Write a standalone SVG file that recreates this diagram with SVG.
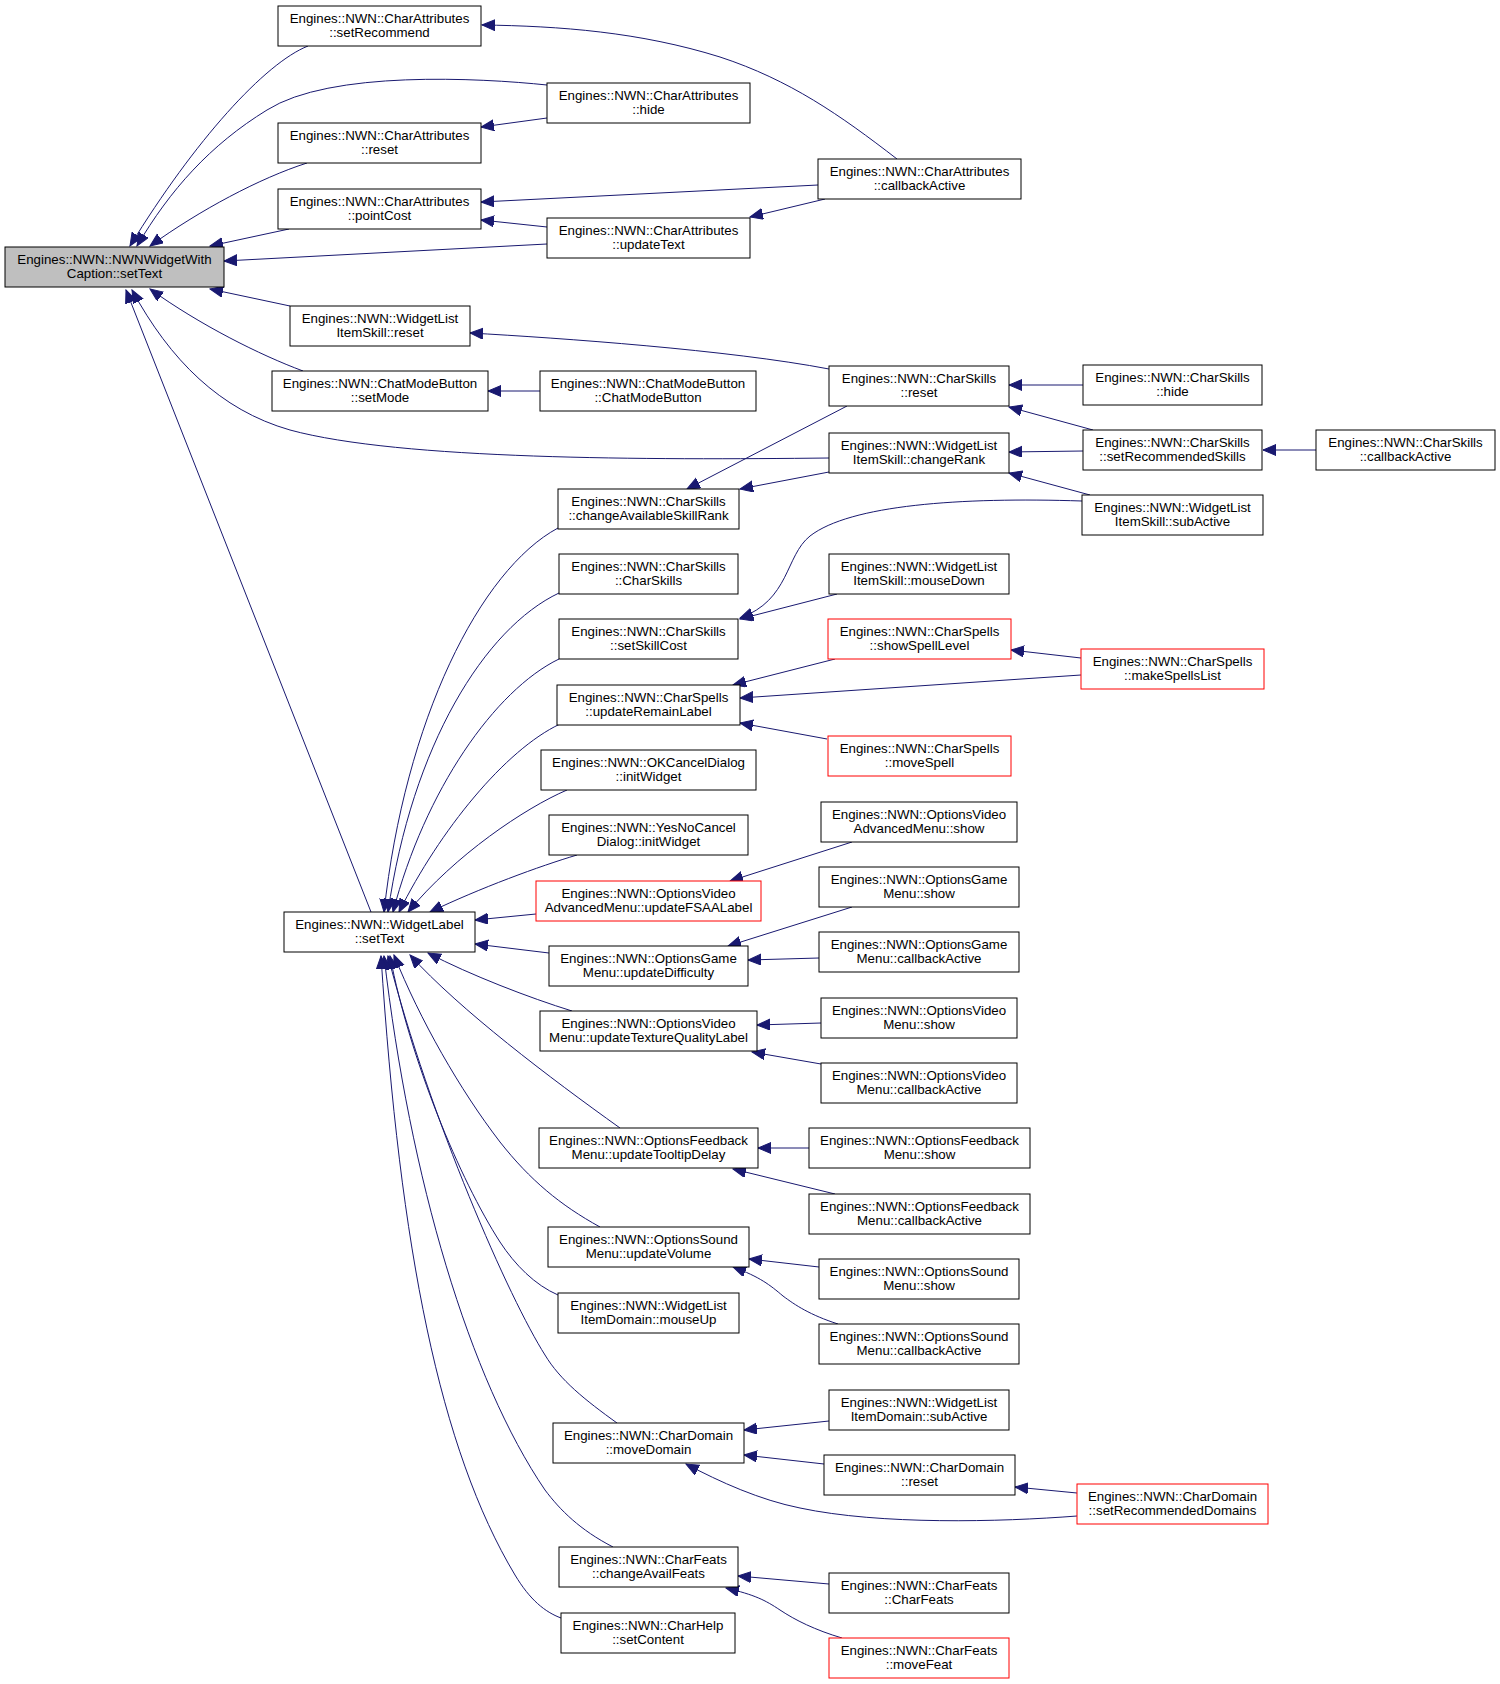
<svg xmlns="http://www.w3.org/2000/svg" width="1500" height="1684" viewBox="0 0 1500 1684">
<style>
.n rect{fill:#fff;stroke:#000;stroke-width:1}
.r rect{stroke:#ff0000}
.g rect{fill:#bfbfbf}
text{font-family:"Liberation Sans",Arial,sans-serif;font-size:13.3px;text-anchor:middle;fill:#000}
.e path{fill:none;stroke:#191970;stroke-width:1;marker-end:url(#a)}
</style>
<defs>
<marker id="a" markerWidth="14" markerHeight="12" refX="13" refY="5.5" orient="auto" markerUnits="userSpaceOnUse">
<path d="M0,0 L13,5.5 L0,11 z" fill="#191970" stroke="#191970"/>
</marker>
</defs>
<rect width="1500" height="1684" fill="#fff"/>
<g class="e" id="edges">
<path d="M308,46 C265,63 195,140 130,246"/>
<path d="M547,85 C480,78 330,70 267,110 C210,145 170,190 137,246"/>
<path d="M307,163 C260,178 200,210 150,246"/>
<path d="M289,229 L210,246"/>
<path d="M547,244 L224,261"/>
<path d="M290,306 L210,289"/>
<path d="M303,371 C260,355 200,325 150,289"/>
<path d="M829,458 C650,460 400,460 290,430 C220,410 170,360 132,290"/>
<path d="M371,912 L126,290"/>
<path d="M897,159 C840,115 790,80 720,57 C640,32 560,26 482,25"/>
<path d="M818,185 L481,202"/>
<path d="M825,199 L750,217"/>
<path d="M547,118 L481,127"/>
<path d="M547,227 L481,220"/>
<path d="M829,369 C730,350 560,338 470,333"/>
<path d="M540,391 L488,391"/>
<path d="M1083,385 L1009,385"/>
<path d="M1093,430 L1009,407"/>
<path d="M1083,451 L1009,452"/>
<path d="M1090,495 L1009,473"/>
<path d="M1316,450 L1263,450"/>
<path d="M829,472 L740,489"/>
<path d="M847,406 L687,489"/>
<path d="M1082,501 C960,497 850,505 810,536 C785,556 790,600 740,618"/>
<path d="M837,594 L740,619"/>
<path d="M835,659 L733,685"/>
<path d="M1081,675 L740,698"/>
<path d="M827,739 L740,723"/>
<path d="M1081,658 L1011,650"/>
<path d="M852,842 L730,881"/>
<path d="M852,907 L728,946"/>
<path d="M819,958 L748,960"/>
<path d="M821,1023 L757,1025"/>
<path d="M821,1064 L752,1052"/>
<path d="M809,1148 L758,1148"/>
<path d="M835,1194 L733,1169"/>
<path d="M819,1267 L749,1259"/>
<path d="M838,1324 C810,1315 795,1305 783,1296 C770,1285 760,1277 733,1267"/>
<path d="M829,1421 L744,1430"/>
<path d="M824,1464 L744,1455"/>
<path d="M1077,1516 C1000,1522 880,1525 800,1508 C760,1500 720,1482 686,1464"/>
<path d="M1077,1493 L1015,1487"/>
<path d="M829,1584 L738,1576"/>
<path d="M842,1638 C815,1630 795,1620 780,1610 C765,1600 755,1595 726,1588"/>
<path d="M558,528 C480,570 405,720 384,912"/>
<path d="M559,593 C485,628 412,745 388,912"/>
<path d="M559,659 C495,690 425,790 393,912"/>
<path d="M560,724 C505,750 440,830 399,912"/>
<path d="M567,790 C525,808 455,855 408,912"/>
<path d="M577,855 C540,866 480,888 430,912"/>
<path d="M536,914 L475,920"/>
<path d="M549,953 L475,944"/>
<path d="M572,1011 C530,998 470,975 428,953"/>
<path d="M620,1128 C550,1078 460,1010 410,955"/>
<path d="M600,1227 C560,1205 530,1180 500,1142 C460,1090 420,1020 394,955"/>
<path d="M558,1295 C535,1285 515,1265 500,1242 C460,1180 410,1060 390,956"/>
<path d="M617,1423 C585,1400 560,1380 545,1355 C510,1300 430,1120 388,956"/>
<path d="M613,1547 C580,1530 560,1510 545,1490 C470,1380 410,1180 384,956"/>
<path d="M561,1618 C545,1612 530,1600 515,1575 C440,1450 400,1250 381,956"/>
</g>
<g id="n0" class="n g"><rect x="5" y="247" width="219" height="40"/><text x="114.5" y="263.5">Engines::NWN::NWNWidgetWith</text><text x="114.5" y="278">Caption::setText</text></g>
<g id="n1" class="n"><rect x="278" y="6" width="203" height="40"/><text x="379.5" y="22.5">Engines::NWN::CharAttributes</text><text x="379.5" y="37">::setRecommend</text></g>
<g id="n2" class="n"><rect x="547" y="83" width="203" height="40"/><text x="648.5" y="99.5">Engines::NWN::CharAttributes</text><text x="648.5" y="114">::hide</text></g>
<g id="n3" class="n"><rect x="278" y="123" width="203" height="40"/><text x="379.5" y="139.5">Engines::NWN::CharAttributes</text><text x="379.5" y="154">::reset</text></g>
<g id="n4" class="n"><rect x="278" y="189" width="203" height="40"/><text x="379.5" y="205.5">Engines::NWN::CharAttributes</text><text x="379.5" y="220">::pointCost</text></g>
<g id="n5" class="n"><rect x="818" y="159" width="203" height="40"/><text x="919.5" y="175.5">Engines::NWN::CharAttributes</text><text x="919.5" y="190">::callbackActive</text></g>
<g id="n6" class="n"><rect x="547" y="218" width="203" height="40"/><text x="648.5" y="234.5">Engines::NWN::CharAttributes</text><text x="648.5" y="249">::updateText</text></g>
<g id="n7" class="n"><rect x="290" y="306" width="180" height="40"/><text x="380" y="322.5">Engines::NWN::WidgetList</text><text x="380" y="337">ItemSkill::reset</text></g>
<g id="n8" class="n"><rect x="272" y="371" width="216" height="40"/><text x="380" y="387.5">Engines::NWN::ChatModeButton</text><text x="380" y="402">::setMode</text></g>
<g id="n9" class="n"><rect x="540" y="371" width="216" height="40"/><text x="648" y="387.5">Engines::NWN::ChatModeButton</text><text x="648" y="402">::ChatModeButton</text></g>
<g id="n10" class="n"><rect x="829" y="366" width="180" height="40"/><text x="919" y="382.5">Engines::NWN::CharSkills</text><text x="919" y="397">::reset</text></g>
<g id="n11" class="n"><rect x="1083" y="365" width="179" height="40"/><text x="1172.5" y="381.5">Engines::NWN::CharSkills</text><text x="1172.5" y="396">::hide</text></g>
<g id="n12" class="n"><rect x="829" y="433" width="180" height="40"/><text x="919" y="449.5">Engines::NWN::WidgetList</text><text x="919" y="464">ItemSkill::changeRank</text></g>
<g id="n13" class="n"><rect x="1083" y="430" width="179" height="40"/><text x="1172.5" y="446.5">Engines::NWN::CharSkills</text><text x="1172.5" y="461">::setRecommendedSkills</text></g>
<g id="n14" class="n"><rect x="1316" y="430" width="179" height="40"/><text x="1405.5" y="446.5">Engines::NWN::CharSkills</text><text x="1405.5" y="461">::callbackActive</text></g>
<g id="n15" class="n"><rect x="1082" y="495" width="181" height="40"/><text x="1172.5" y="511.5">Engines::NWN::WidgetList</text><text x="1172.5" y="526">ItemSkill::subActive</text></g>
<g id="n16" class="n"><rect x="558" y="489" width="181" height="40"/><text x="648.5" y="505.5">Engines::NWN::CharSkills</text><text x="648.5" y="520">::changeAvailableSkillRank</text></g>
<g id="n17" class="n"><rect x="559" y="554" width="179" height="40"/><text x="648.5" y="570.5">Engines::NWN::CharSkills</text><text x="648.5" y="585">::CharSkills</text></g>
<g id="n18" class="n"><rect x="829" y="554" width="180" height="40"/><text x="919" y="570.5">Engines::NWN::WidgetList</text><text x="919" y="585">ItemSkill::mouseDown</text></g>
<g id="n19" class="n"><rect x="559" y="619" width="179" height="40"/><text x="648.5" y="635.5">Engines::NWN::CharSkills</text><text x="648.5" y="650">::setSkillCost</text></g>
<g id="n20" class="n r"><rect x="828" y="619" width="183" height="40"/><text x="919.5" y="635.5">Engines::NWN::CharSpells</text><text x="919.5" y="650">::showSpellLevel</text></g>
<g id="n21" class="n r"><rect x="1081" y="649" width="183" height="40"/><text x="1172.5" y="665.5">Engines::NWN::CharSpells</text><text x="1172.5" y="680">::makeSpellsList</text></g>
<g id="n22" class="n"><rect x="557" y="685" width="183" height="40"/><text x="648.5" y="701.5">Engines::NWN::CharSpells</text><text x="648.5" y="716">::updateRemainLabel</text></g>
<g id="n23" class="n r"><rect x="828" y="736" width="183" height="40"/><text x="919.5" y="752.5">Engines::NWN::CharSpells</text><text x="919.5" y="767">::moveSpell</text></g>
<g id="n24" class="n"><rect x="541" y="750" width="215" height="40"/><text x="648.5" y="766.5">Engines::NWN::OKCancelDialog</text><text x="648.5" y="781">::initWidget</text></g>
<g id="n25" class="n"><rect x="549" y="815" width="199" height="40"/><text x="648.5" y="831.5">Engines::NWN::YesNoCancel</text><text x="648.5" y="846">Dialog::initWidget</text></g>
<g id="n26" class="n"><rect x="821" y="802" width="196" height="40"/><text x="919" y="818.5">Engines::NWN::OptionsVideo</text><text x="919" y="833">AdvancedMenu::show</text></g>
<g id="n27" class="n"><rect x="284" y="912" width="191" height="40"/><text x="379.5" y="928.5">Engines::NWN::WidgetLabel</text><text x="379.5" y="943">::setText</text></g>
<g id="n28" class="n r"><rect x="536" y="881" width="225" height="40"/><text x="648.5" y="897.5">Engines::NWN::OptionsVideo</text><text x="648.5" y="912">AdvancedMenu::updateFSAALabel</text></g>
<g id="n29" class="n"><rect x="819" y="867" width="200" height="40"/><text x="919" y="883.5">Engines::NWN::OptionsGame</text><text x="919" y="898">Menu::show</text></g>
<g id="n30" class="n"><rect x="549" y="946" width="199" height="40"/><text x="648.5" y="962.5">Engines::NWN::OptionsGame</text><text x="648.5" y="977">Menu::updateDifficulty</text></g>
<g id="n31" class="n"><rect x="819" y="932" width="200" height="40"/><text x="919" y="948.5">Engines::NWN::OptionsGame</text><text x="919" y="963">Menu::callbackActive</text></g>
<g id="n32" class="n"><rect x="540" y="1011" width="217" height="40"/><text x="648.5" y="1027.5">Engines::NWN::OptionsVideo</text><text x="648.5" y="1042">Menu::updateTextureQualityLabel</text></g>
<g id="n33" class="n"><rect x="821" y="998" width="196" height="40"/><text x="919" y="1014.5">Engines::NWN::OptionsVideo</text><text x="919" y="1029">Menu::show</text></g>
<g id="n34" class="n"><rect x="821" y="1063" width="196" height="40"/><text x="919" y="1079.5">Engines::NWN::OptionsVideo</text><text x="919" y="1094">Menu::callbackActive</text></g>
<g id="n35" class="n"><rect x="539" y="1128" width="219" height="40"/><text x="648.5" y="1144.5">Engines::NWN::OptionsFeedback</text><text x="648.5" y="1159">Menu::updateTooltipDelay</text></g>
<g id="n36" class="n"><rect x="809" y="1128" width="221" height="40"/><text x="919.5" y="1144.5">Engines::NWN::OptionsFeedback</text><text x="919.5" y="1159">Menu::show</text></g>
<g id="n37" class="n"><rect x="809" y="1194" width="221" height="40"/><text x="919.5" y="1210.5">Engines::NWN::OptionsFeedback</text><text x="919.5" y="1225">Menu::callbackActive</text></g>
<g id="n38" class="n"><rect x="548" y="1227" width="201" height="40"/><text x="648.5" y="1243.5">Engines::NWN::OptionsSound</text><text x="648.5" y="1258">Menu::updateVolume</text></g>
<g id="n39" class="n"><rect x="819" y="1259" width="200" height="40"/><text x="919" y="1275.5">Engines::NWN::OptionsSound</text><text x="919" y="1290">Menu::show</text></g>
<g id="n40" class="n"><rect x="819" y="1324" width="200" height="40"/><text x="919" y="1340.5">Engines::NWN::OptionsSound</text><text x="919" y="1355">Menu::callbackActive</text></g>
<g id="n41" class="n"><rect x="558" y="1293" width="181" height="40"/><text x="648.5" y="1309.5">Engines::NWN::WidgetList</text><text x="648.5" y="1324">ItemDomain::mouseUp</text></g>
<g id="n42" class="n"><rect x="829" y="1390" width="180" height="40"/><text x="919" y="1406.5">Engines::NWN::WidgetList</text><text x="919" y="1421">ItemDomain::subActive</text></g>
<g id="n43" class="n"><rect x="553" y="1423" width="191" height="40"/><text x="648.5" y="1439.5">Engines::NWN::CharDomain</text><text x="648.5" y="1454">::moveDomain</text></g>
<g id="n44" class="n"><rect x="824" y="1455" width="191" height="40"/><text x="919.5" y="1471.5">Engines::NWN::CharDomain</text><text x="919.5" y="1486">::reset</text></g>
<g id="n45" class="n r"><rect x="1077" y="1484" width="191" height="40"/><text x="1172.5" y="1500.5">Engines::NWN::CharDomain</text><text x="1172.5" y="1515">::setRecommendedDomains</text></g>
<g id="n46" class="n"><rect x="559" y="1547" width="179" height="40"/><text x="648.5" y="1563.5">Engines::NWN::CharFeats</text><text x="648.5" y="1578">::changeAvailFeats</text></g>
<g id="n47" class="n"><rect x="829" y="1573" width="180" height="40"/><text x="919" y="1589.5">Engines::NWN::CharFeats</text><text x="919" y="1604">::CharFeats</text></g>
<g id="n48" class="n"><rect x="561" y="1613" width="174" height="40"/><text x="648" y="1629.5">Engines::NWN::CharHelp</text><text x="648" y="1644">::setContent</text></g>
<g id="n49" class="n r"><rect x="829" y="1638" width="180" height="40"/><text x="919" y="1654.5">Engines::NWN::CharFeats</text><text x="919" y="1669">::moveFeat</text></g>
</svg>
